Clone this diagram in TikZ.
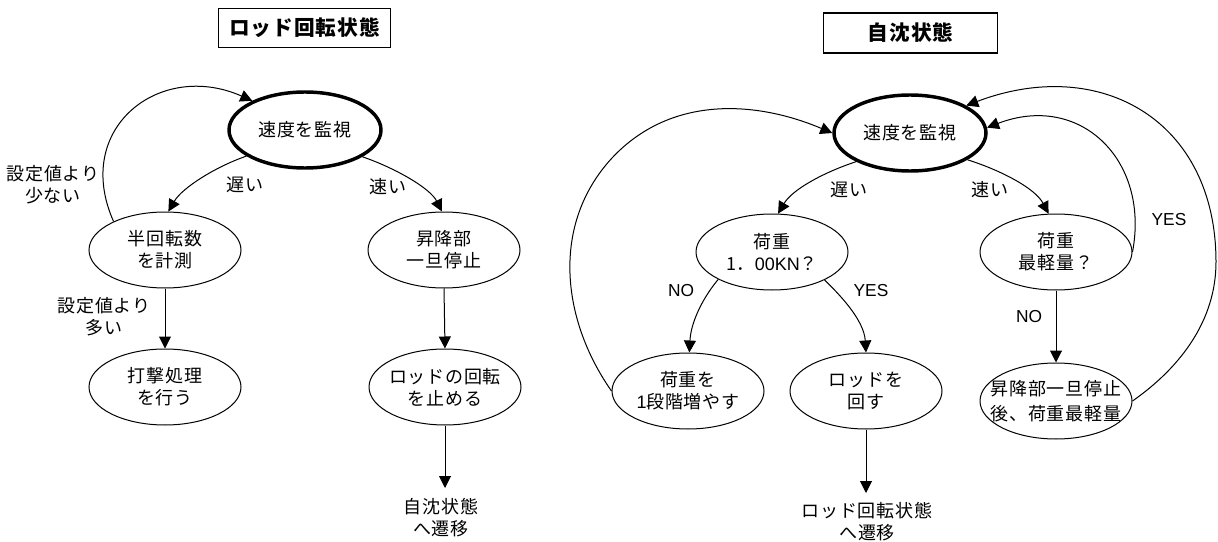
\documentclass[tikz,border=0pt]{standalone}
\usepackage{fontspec}
\setmainfont{Liberation Sans}
\newfontfamily\cjk[LetterSpace=4]{Noto Sans CJK JP}
\newfontfamily\cjkt[LetterSpace=5]{Noto Sans CJK JP}
\usetikzlibrary{arrows.meta,shapes.geometric}
\tikzset{
  st/.style={ellipse, draw, line width=0.75pt, minimum width=114pt, minimum height=57pt, inner sep=0pt},
  sttop/.style={st, line width=2.6pt},
  tx/.style={font=\cjk\fontsize{13.5}{16.5}\selectfont, align=center, inner sep=0pt},
  en/.style={font=\fontsize{13}{15}\selectfont, inner sep=0pt},
  ttl/.style={draw, line width=1.3pt, inner sep=0pt, font=\cjkt\bfseries\fontsize{15.5}{18}\selectfont},
  arr/.style={-{Triangle[length=9pt,width=9pt]}, line width=0.75pt},
}
\begin{document}
\begin{tikzpicture}[x=0.75pt,y=-0.75pt]
\useasboundingbox (0,0) rectangle (1218,542);
% ---------- left diagram ----------
\node[ttl, minimum width=129pt, minimum height=29.3pt] (t1) at (304.5,28) {ロッド回転状態};
\node[sttop] (a1) at (305,130) {};
\node[tx] (a1t) at (a1) {速度を監視};
\node[st] (b1) at (165,250) {};
\node[tx] (b1t) at (b1) {半回転数\\を計測};
\node[st] (c1) at (165,387) {};
\node[tx] (c1t) at (c1) {打撃処理\\を行う};
\node[st] (d1) at (444,250) {};
\node[tx] (d1t) at (d1) {昇降部\\一旦停止};
\node[st] (e1) at (445,387) {};
\node[tx] (e1t) at (e1) {ロッドの回転\\を止める};
\node[tx] (f1) at (441,518) {自沈状態\\へ遷移};
\coordinate (f1in) at (445,488);
\node[tx] (l1) at (245,185) {遅い};
\node[tx] (l2) at (388,187) {速い};
\node[tx] (l3) at (53,185) {設定値より\\少ない};
\node[tx] (l4) at (104,317) {設定値より\\多い};
\draw[arr] (a1.204) .. controls (215,167) and (182,188) .. (b1.85);
\draw[arr] (a1.-25) .. controls (395,168) and (430,188) .. (d1.93);
\draw[arr] (b1.south) -- (c1.north);
\draw[arr] (d1.south) -- (e1.north);
\draw[arr] (e1.south) -- (f1in);
\draw[arr] (b1.151) .. controls (72,128) and (160,60) .. (a1.151);
% ---------- right diagram ----------
\node[ttl, minimum width=130.5pt, minimum height=30pt] (t2) at (910.5,33) {自沈状態};
\node[sttop] (a2) at (910,133) {};
\node[tx] (a2t) at (a2) {速度を監視};
\node[st] (w1) at (772,252) {};
\node[tx] (w1t) at (w1) {荷重\\1．{\fontspec{Liberation Sans}00KN}？};
\node[st] (w2) at (1056,252) {};
\node[tx] (w2t) at (w2) {荷重\\最軽量？};
\node[st] (x1) at (688,391) {};
\node[tx] (x1t) at (x1) {荷重を\\{\fontspec{Liberation Sans}1}段階増やす};
\node[st] (x2) at (866,391) {};
\node[tx] (x2t) at (x2) {ロッドを\\回す};
\node[st] (w3) at (1056,401) {};
\node[tx, font=\cjk\fontsize{13.5}{18.5}\selectfont] (w3t) at (w3) {昇降部一旦停止\\後、荷重最軽量};
\node[tx] (g2) at (867,522) {ロッド回転状態\\へ遷移};
\coordinate (g2in) at (866,493);
\node[tx] (r1) at (849,190) {遅い};
\node[tx] (r2) at (990,190) {速い};
\node[en] (r3) at (681,291) {NO};
\node[en] (r4) at (871,291) {YES};
\node[en] (r5) at (1029,317) {NO};
\node[en] (r6) at (1169,220) {YES};
\coordinate (m1) at (1216,262);
\coordinate (m2) at (612,158);
\draw[arr] (a2.208) .. controls (822,173) and (792,190) .. (w1.81);
\draw[arr] (a2.-25) .. controls (1000,170) and (1035,188) .. (w2.101);
\draw[arr] (w1.207) .. controls (705,295) and (691,320) .. (x1.88);
\draw[arr] (w1.-28) .. controls (840,295) and (864,320) .. (x2.90);
\draw[arr] (x2.south) -- (g2in);
\draw[arr] (w2.south) -- (w3.north);
\draw[arr] (w2.east) .. controls (1150,160) and (1080,92) .. (a2.4);
\draw[arr] (w3.east) .. controls (1181,367) and (1216,320) .. (m1) .. controls (1216,120) and (1100,55) .. (a2.26);
\draw[arr] (x1.west) .. controls (561,319) and (551,224) .. (m2) .. controls (670,96) and (754,100) .. (a2.west);
\end{tikzpicture}
\end{document}
